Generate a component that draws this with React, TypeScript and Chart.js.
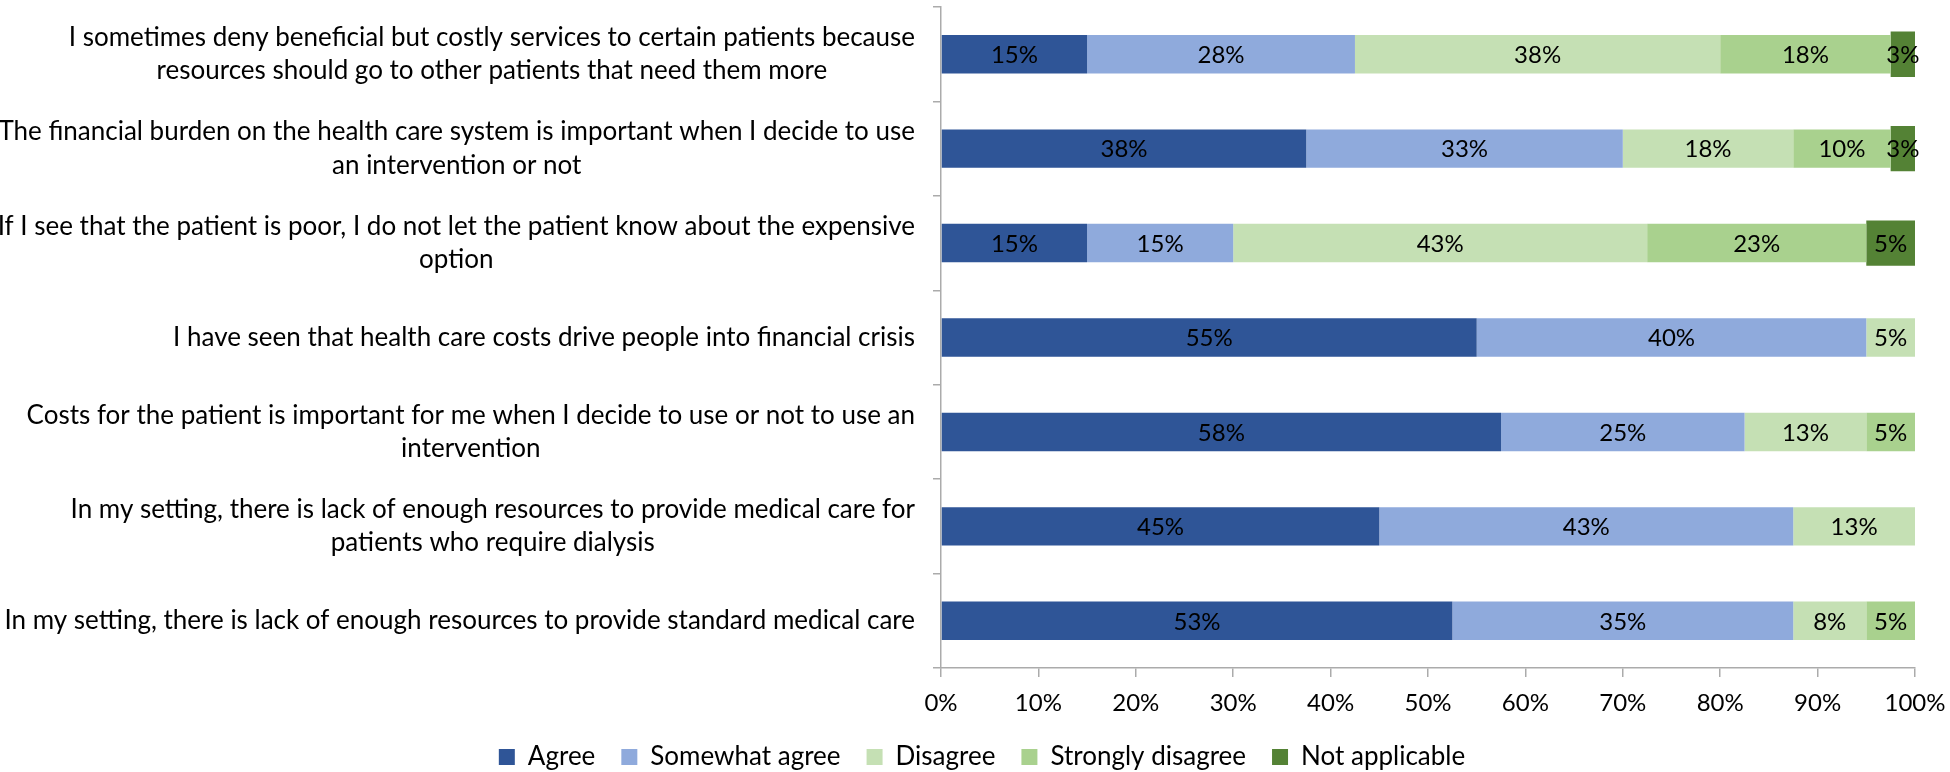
import React, { useEffect, useRef } from "react";
import { Chart, registerables } from "chart.js";

Chart.register(...registerables);

// ---------- data ----------
const CATEGORIES: string[][] = [
  [
    "I sometimes deny beneficial but costly services to certain patients because",
    "resources should go to other patients that need them more",
  ],
  [
    "The financial burden on the health care system is important when I decide to use",
    "an intervention or not",
  ],
  [
    "If I see that the patient is poor, I do not let the patient know about the expensive",
    "option",
  ],
  ["I have seen that health care costs drive people into financial crisis"],
  [
    "Costs for the patient is important for me when I decide to use or not to use an",
    "intervention",
  ],
  [
    "In my setting, there is lack of enough resources to provide medical care for",
    "patients who require dialysis",
  ],
  ["In my setting, there is lack of enough resources to provide standard medical care"],
];

const AGREE = [15, 37.5, 15, 55, 57.5, 45, 52.5];
const SOMEWHAT_AGREE = [27.5, 32.5, 15, 40, 25, 42.5, 35];
const DISAGREE = [37.5, 17.5, 42.5, 5, 12.5, 12.5, 7.5];
const STRONGLY_DISAGREE = [17.5, 10, 22.5, 0, 5, 0, 5];
const NOT_APPLICABLE = [2.5, 2.5, 5, 0, 0, 0, 0];

const SERIES_NAMES = ["Agree", "Somewhat agree", "Disagree", "Strongly disagree", "Not applicable"];
const SERIES_VALUES = [AGREE, SOMEWHAT_AGREE, DISAGREE, STRONGLY_DISAGREE, NOT_APPLICABLE];
const SERIES_COLORS = ["#2F5597", "#8FAADC", "#C5E0B4", "#A9D18E", "#548235"];

const X_MIN = 0;
const X_MAX = 100;
const X_STEP = 10;

// ---------- styling ----------
const W = 1950;
const H = 772;
const FONT_FAMILY = "Lato, 'Open Sans', sans-serif";
const NUM_FONT_SIZE = 24;
const TEXT_FONT_SIZE = 26;
const AXIS_COLOR = "#ABABAB";
const LABEL_GAP = 26;
const LINE_H = 33.5;

const barValueLabels = {
  id: "barValueLabels",
  afterDatasetsDraw(chart: any) {
    const ctx = chart.ctx;
    ctx.save();
    ctx.font = `${NUM_FONT_SIZE}px ${FONT_FAMILY}`;
    ctx.fillStyle = "#000";
    ctx.textAlign = "center";
    ctx.textBaseline = "middle";
    chart.data.datasets.forEach((ds: any, di: number) => {
      const meta = chart.getDatasetMeta(di);
      meta.data.forEach((el: any, i: number) => {
        const v = ds.data[i] as number;
        if (!v) return;
        const p = el.getProps(["x", "y", "base"], true);
        ctx.fillText(`${Math.round(v)}%`, (p.x + p.base) / 2, p.y + 1);
      });
    });
    ctx.restore();
  },
};

const categoryLabels = {
  id: "categoryLabels",
  afterDraw(chart: any) {
    const ctx = chart.ctx;
    const yScale = chart.scales.y;
    const right = chart.chartArea.left - LABEL_GAP;
    ctx.save();
    ctx.font = `${TEXT_FONT_SIZE}px ${FONT_FAMILY}`;
    ctx.fillStyle = "#000";
    ctx.textAlign = "center";
    ctx.textBaseline = "middle";
    (chart.data.labels as string[][]).forEach((lines, i) => {
      const cy = yScale.getPixelForValue(i);
      const w = Math.max(...lines.map((l) => ctx.measureText(l).width));
      const cx = right - w / 2;
      const n = lines.length;
      lines.forEach((l, k) => ctx.fillText(l, cx, cy + (k - (n - 1) / 2) * LINE_H));
    });
    ctx.restore();
  },
};

export default function App() {
  const canvasRef = useRef<HTMLCanvasElement | null>(null);

  useEffect(() => {
    document.body.style.margin = "0";
    const canvas = canvasRef.current;
    if (!canvas) return;

    const chart = new Chart(canvas, {
      type: "bar",
      data: {
        labels: CATEGORIES as any,
        datasets: SERIES_NAMES.map((name, i) => ({
          label: name,
          data: SERIES_VALUES[i],
          backgroundColor: SERIES_COLORS[i],
          borderWidth: 0,
          barPercentage: i === 4 ? 0.48 : 0.407,
          categoryPercentage: 1,
        })),
      },
      options: {
        indexAxis: "y",
        responsive: false,
        animation: false,
        devicePixelRatio: 1,
        layout: { padding: { top: 7, right: 0, bottom: -8, left: 14 } },
        font: { family: FONT_FAMILY, size: NUM_FONT_SIZE },
        scales: {
          x: {
            type: "linear",
            stacked: true,
            min: X_MIN,
            max: X_MAX,
            ticks: {
              stepSize: X_STEP,
              color: "#000",
              padding: 12,
              font: { family: FONT_FAMILY, size: NUM_FONT_SIZE },
              callback: (v: any) => `${v}%`,
            },
            grid: {
              drawOnChartArea: false,
              drawTicks: true,
              tickLength: 9,
              color: AXIS_COLOR,
              lineWidth: 1.5,
            },
            border: { display: true, color: AXIS_COLOR, width: 1.5 },
            afterFit: (s: any) => {
              s.height = 50;
              s.paddingLeft = 0;
              s.paddingRight = 35;
              s._computeLabelArea = () => undefined;
            },
          },
          y: {
            type: "category",
            stacked: true,
            offset: true,
            ticks: { display: false },
            grid: {
              offset: true,
              drawOnChartArea: false,
              drawTicks: true,
              tickLength: 8,
              color: AXIS_COLOR,
              lineWidth: 1.5,
            },
            border: { display: true, color: AXIS_COLOR, width: 1.5 },
            afterFit: (s: any) => {
              s.width = 927;
            },
          },
        },
        plugins: {
          legend: {
            display: true,
            position: "bottom",
            labels: {
              color: "#000",
              font: { family: FONT_FAMILY, size: TEXT_FONT_SIZE },
              boxWidth: 16,
              boxHeight: 16,
              padding: 26,
            },
          },
          tooltip: { enabled: false },
        },
      } as any,
      plugins: [barValueLabels, categoryLabels],
    });

    return () => chart.destroy();
  }, []);

  return (
    <div style={{ width: W, height: H, background: "#fff" }}>
      <canvas ref={canvasRef} width={W} height={H} style={{ display: "block" }} />
    </div>
  );
}
